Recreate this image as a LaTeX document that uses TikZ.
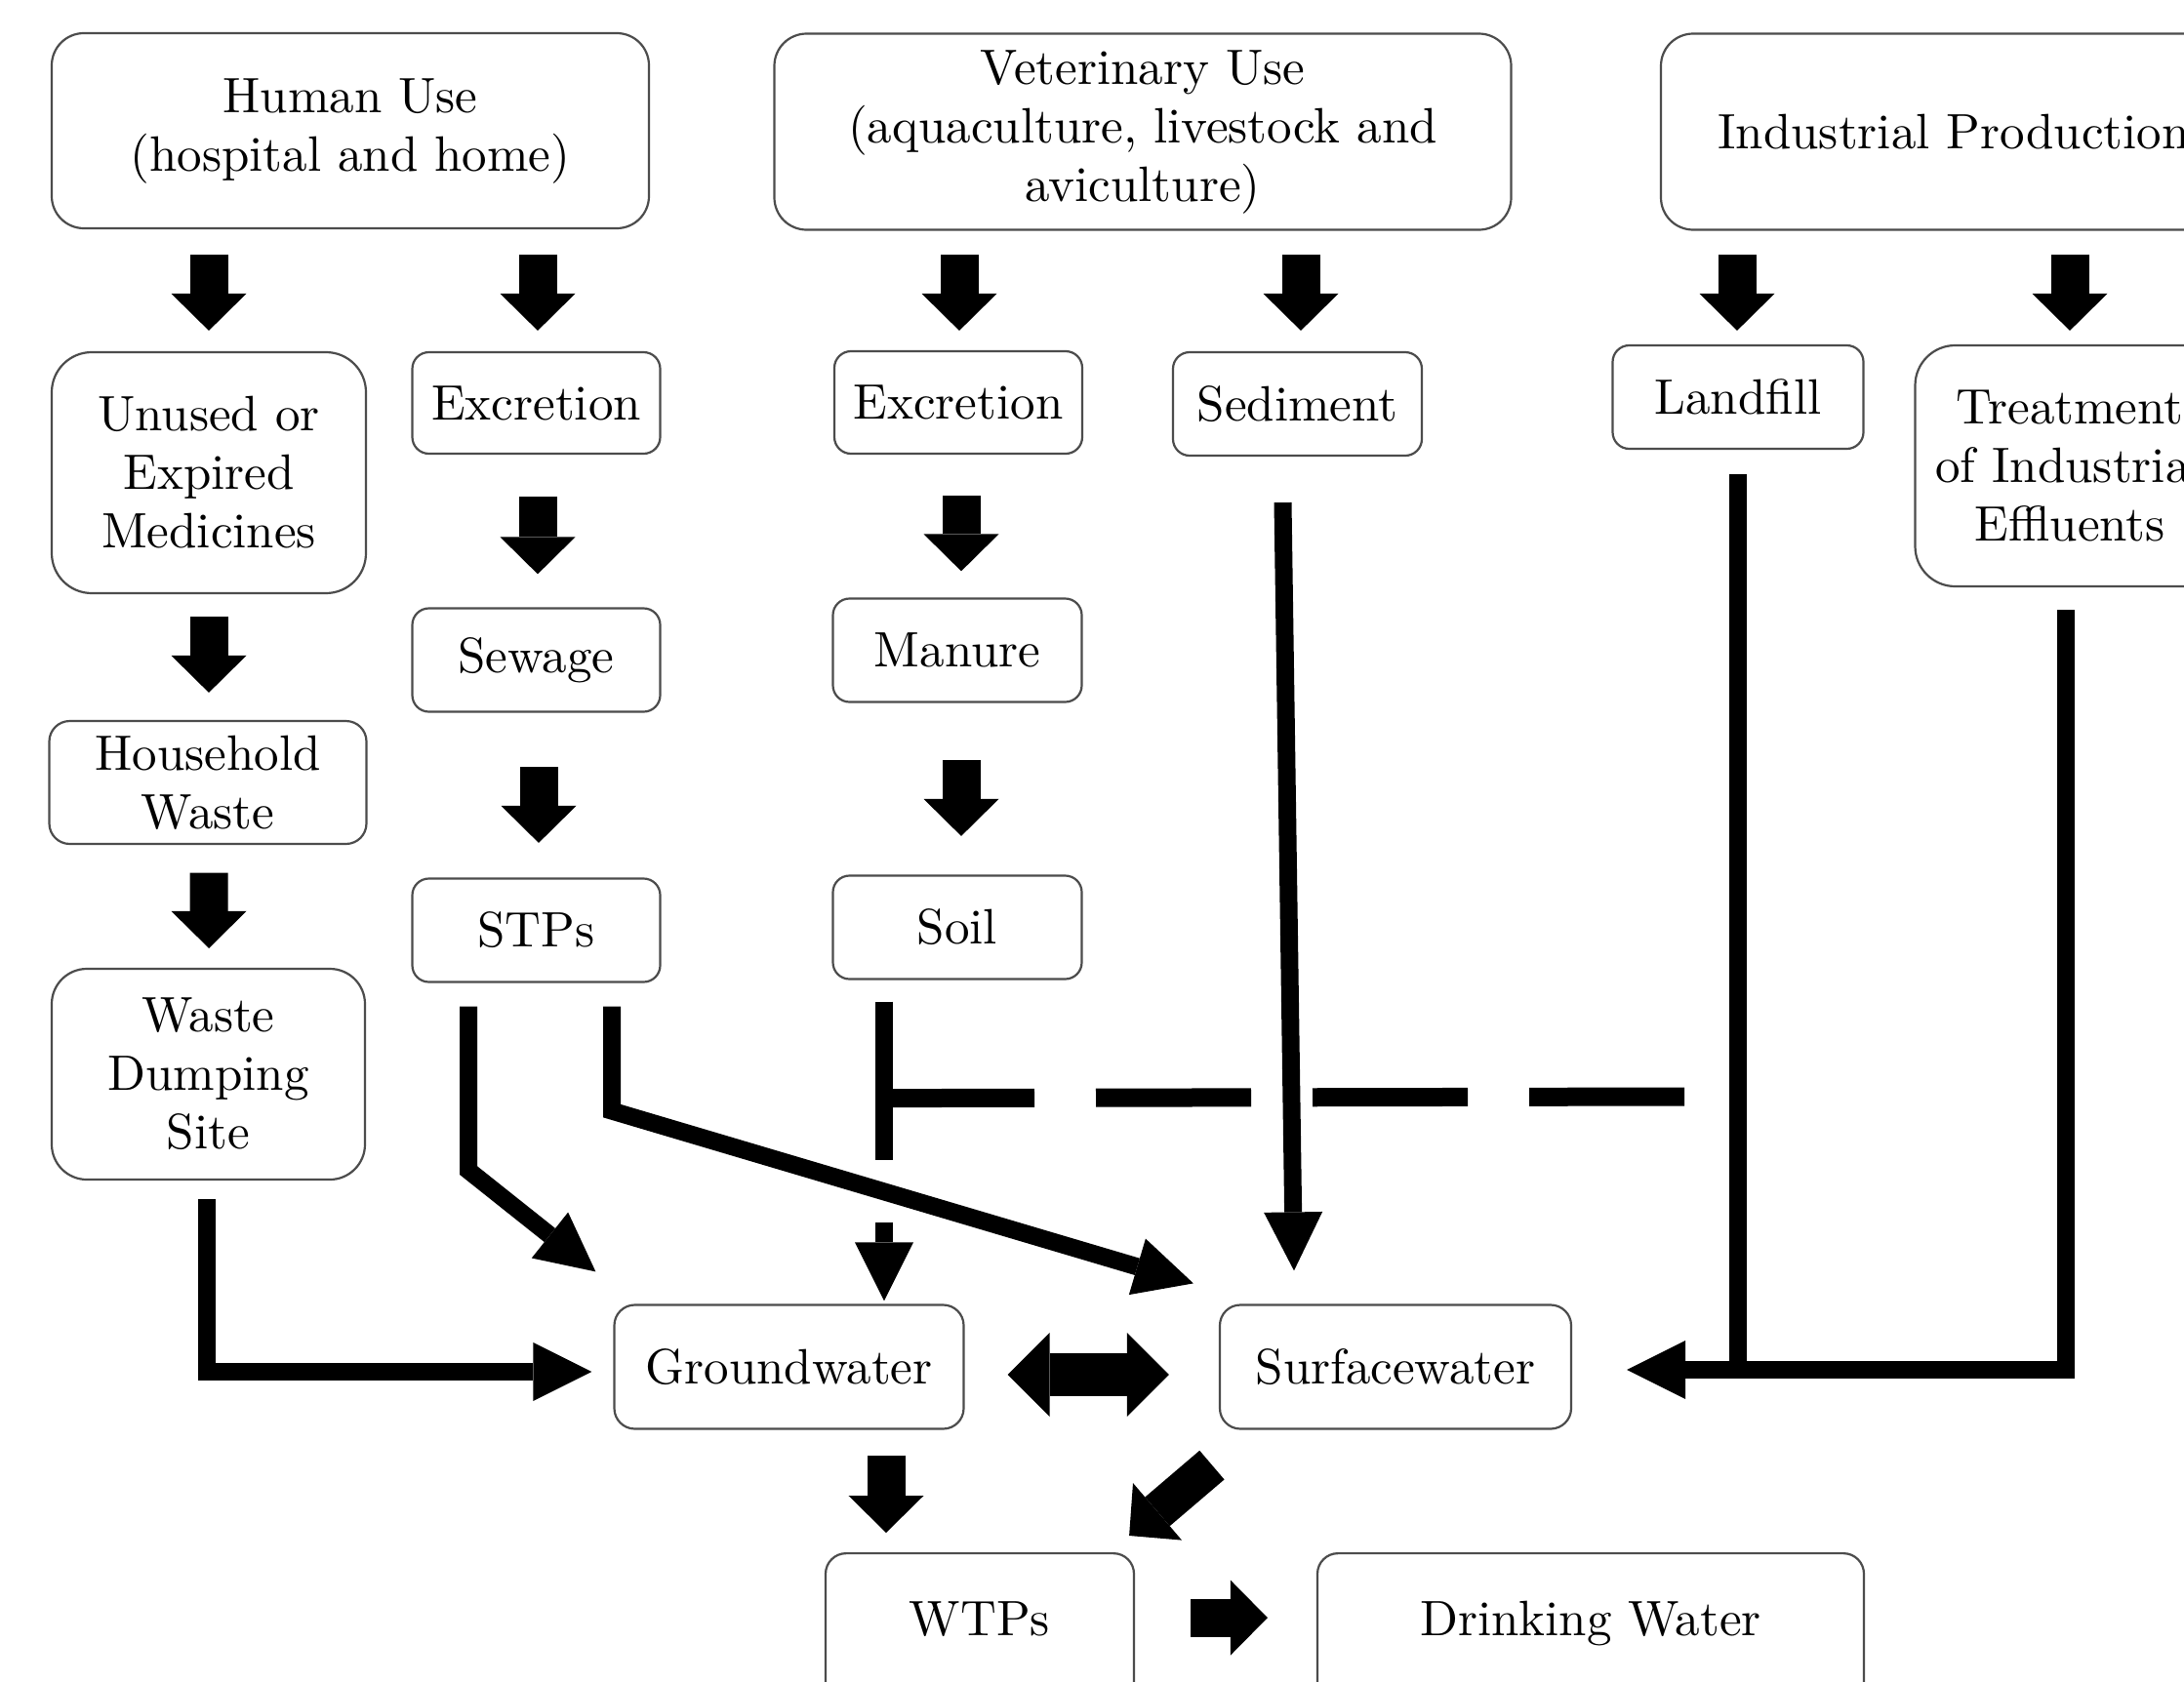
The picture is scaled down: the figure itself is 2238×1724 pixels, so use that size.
\documentclass[tikz,border=0pt]{standalone}
\usepackage{fontspec}
\setmainfont{lmroman10-regular.otf}
\usetikzlibrary{arrows.meta,calc}
\begin{document}
\begin{tikzpicture}[x=1pt,y=-1pt,
  box/.style={draw=black!70, line width=2.2pt, align=center, inner sep=0pt,
    font=\fontsize{51}{60}\selectfont},
  rs/.style={rounded corners=17pt},
  rm/.style={rounded corners=21pt},
  rl/.style={rounded corners=36pt},
  rx/.style={rounded corners=41pt},
  cutbox/.style={anchor=north, inner ysep=0pt, text height=84pt, text depth=90pt},
  blk/.style={line width=39pt, -{Triangle[length=38pt,width=77pt,line width=0pt]}},
  dblk/.style={line width=44pt, {Triangle[length=43pt,width=86pt,line width=0pt]}-{Triangle[length=43pt,width=86pt,line width=0pt]}},
  con/.style={line width=18pt, line join=miter, -{Triangle[length=60pt,width=60pt,line width=0pt]}},
  bar/.style={line width=18pt},
  dashbar/.style={line width=19pt, dash pattern=on 159pt off 63pt, dash phase=5pt}
]
\path[use as bounding box, fill=white] (0,0) rectangle (2238,1724);

% top row
\node[box, rounded corners=33pt, minimum width=612, minimum height=200] (hu) at (359,134) {Human Use\\(hospital and home)};
\node[box, rounded corners=33pt, minimum width=755, minimum height=201] (vu) at (1171,135) {Veterinary Use\\(aquaculture, livestock and\\aviculture)};
\node[box, rounded corners=33pt, minimum width=600, minimum height=201] (ip) at (2002,135) {Industrial Production};

% second row
\node[box, rx, minimum width=322, minimum height=247] (unused) at (214,484.5) {Unused or\\Expired\\Medicines};
\node[box, rs, minimum width=254, minimum height=104] (exh) at (549.5,413) {Excretion};
\node[box, rs, minimum width=254, minimum height=105] (exv) at (982,412.5) {Excretion};
\node[box, rs, minimum width=255, minimum height=106] (sed) at (1329.5,414) {Sediment};
\node[box, rs, minimum width=257, minimum height=106] (land) at (1781,407) {Landfill};
\node[box, rx, minimum width=317, minimum height=247] (treat) at (2121,477.5) {Treatment\\of Industrial\\Effluents};

% further rows
\node[box, rs, minimum width=254, minimum height=106] (sew) at (549.5,676.5) {Sewage};
\node[box, rs, minimum width=255, minimum height=106] (man) at (981,666.5) {Manure};
\node[box, rm, minimum width=325, minimum height=126] (house) at (213,802) {Household\\Waste};
\node[box, rs, minimum width=254, minimum height=106] (stp) at (549.5,953.5) {STPs};
\node[box, rs, minimum width=255, minimum height=106] (soil) at (981,950.5) {Soil};
\node[box, rl, minimum width=321, minimum height=216] (wds) at (213.5,1101) {Waste\\Dumping\\Site};

% water
\node[box, rm, minimum width=358, minimum height=127] (gw) at (808.5,1401) {Groundwater};
\node[box, rm, minimum width=360, minimum height=127] (sw) at (1430,1401) {Surfacewater};
\node[box, rm, cutbox, minimum width=316] (wtp) at (1004,1591) {WTPs};
\node[box, rm, cutbox, minimum width=560] (dw) at (1630,1591) {Drinking Water};

% block arrows
\draw[blk] ($(hu.south -| unused.north)+(0,26)$) -- ($(unused.north)+(0,-21)$);
\draw[blk] ($(hu.south -| exh.north)+(1.5,26)$) -- ($(exh.north)+(1.5,-21)$);
\draw[blk] ($(vu.south -| exv.north)+(1,24.5)$) -- ($(exv.north)+(1,-20)$);
\draw[blk] ($(vu.south -| sed.north)+(3.5,24.5)$) -- ($(sed.north)+(3.5,-21)$);
\draw[blk] ($(ip.south -| land.north)+(-1,24.5)$) -- ($(land.north)+(-1,-14)$);
\draw[blk] ($(ip.south -| treat.north)+(0,24.5)$) -- ($(treat.north)+(0,-14)$);
\draw[blk] ($(unused.south)+(0,23)$) -- ($(house.north)+(1,-28)$);
\draw[blk] ($(exh.south)+(1.5,43)$) -- ($(sew.north)+(1.5,-34)$);
\draw[blk] ($(exv.south)+(3,42)$) -- ($(man.north)+(4,-27)$);
\draw[blk] ($(sew.south)+(2.5,55.5)$) -- ($(stp.north)+(2.5,-35.5)$);
\draw[blk] ($(man.south)+(4,58.5)$) -- ($(soil.north)+(4,-39.5)$);
\draw[blk] ($(house.south)+(1,28.5)$) -- ($(wds.north)+(0.6,-20)$);
\draw[blk] ($(gw.south)+(99.5,26)$) -- ($(wtp.north)+(-96,-20)$);
\draw[blk] ($(sw.south west)+(-7,36)$) -- ($(wtp.north east)+(-6,-17)$);
\draw[blk] ($(wtp.east)+(57,-21)$) -- ($(dw.west)+(-50,-21)$);
\draw[dblk] ($(gw.east)+(44,8)$) -- ($(sw.west)+(-51,8)$);

% thin connectors
\draw[con] ($(wds.south)+(-2,19)$) |- ($(gw.west)+(-22,5)$);
\draw[con] ($(stp.south)+(-69.5,24)$) -- ++(0,168) -- ($(gw.north west)+(-18,-33)$);
\draw[con] ($(stp.south)+(77.5,24)$) -- ++(0,107) -- ($(sw.north west)+(-26,-21)$);
\draw[con] ($(sed.south)+(-15,47)$) -- ($(sw.north)+(-104,-34)$);
\draw[bar] ($(land.south)+(0,25)$) -- ($(land.south |- sw.east)+(0,3)$);
\draw[con] ($(treat.south)+(-4,23)$) |- ($(sw.east)+(56,3)$);

% soil barrier and dashed line
\coordinate (dashend) at (1727,1124);
\draw[bar] ($(soil.south)+(-75,22)$) -- ($(soil.south)+(-75,184)$);
\draw[dashbar] ($(soil.south)+(-75,121)$) -- (dashend);
\draw[con] ($(soil.south)+(-75,248)$) -- ($(gw.north)+(97.5,-3)$);
\end{tikzpicture}
\end{document}
